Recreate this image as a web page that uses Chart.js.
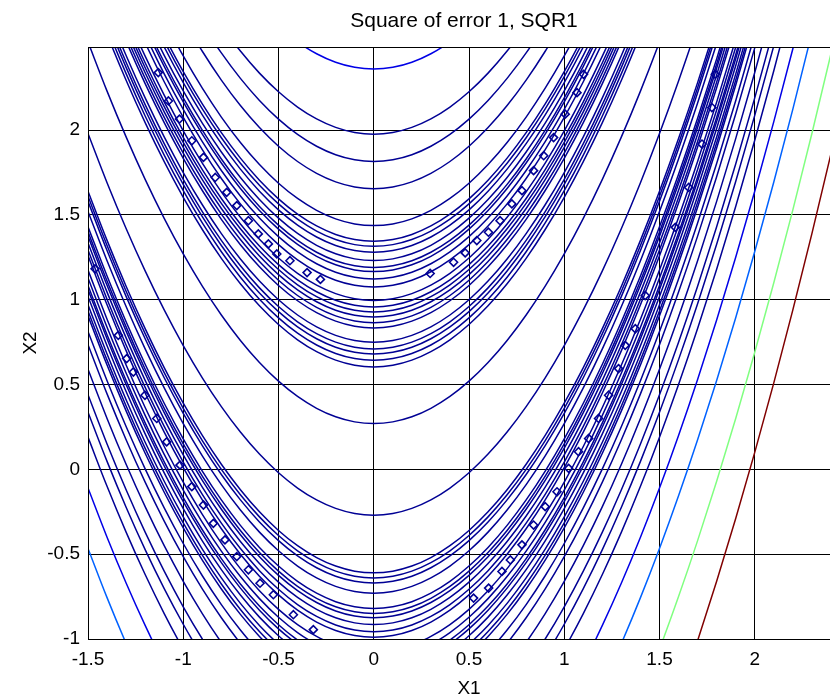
<!DOCTYPE html>
<html>
<head>
<meta charset="utf-8">
<script src="https://cdn.jsdelivr.net/npm/chart.js@4.4.0/dist/chart.umd.min.js"></script>
<style>
  html, body { margin: 0; padding: 0; background: #fff; overflow: hidden; }
  canvas { display: block; }
</style>
</head>
<body>
<canvas id="sqr1" width="880" height="700"></canvas>
<script>
// x1 positions where every contour line is sampled
const x1Grid = [-1.5, -1.4, -1.3, -1.2, -1.1, -1.0, -0.9, -0.8, -0.7, -0.6, -0.5, -0.4, -0.3, -0.2, -0.1,
  0, 0.1, 0.2, 0.3, 0.4, 0.5, 0.6, 0.7, 0.8, 0.9, 1.0, 1.1, 1.2, 1.3, 1.4, 1.5, 1.6, 1.7, 1.8, 1.9,
  2.0, 2.1, 2.2, 2.3, 2.4, 2.5];

// every contour is the parabola x2 = x1^2 + offset; offsets read where each line crosses x1 = 0
// (lines below x2 = -1 read where they cross x2 = 0)
const middleOffsets = [-0.27, 0.27];
const upperBandOffsets = [0.604, 0.643, 0.68, 0.71, 0.75, 0.834, 0.865, 0.898, 0.928, 0.957, 0.996,
  1.075, 1.122, 1.166, 1.19, 1.231, 1.28, 1.315, 1.345, 1.437, 1.655, 1.815, 1.976];
const lowerBandOffsets = [-0.61, -0.64, -0.67, -0.73, -0.82, -0.85, -0.875, -0.915, -0.957, -0.99,
  -1.075, -1.122, -1.166, -1.19, -1.231, -1.28, -1.316, -1.345, -1.437, -1.515, -1.66, -1.81, -1.913, -2.06];
// outer lines that leave the dark blue part of the colour map
const outerOffsets = [2.36, -2.36, -2.716, -3.31, -3.9];
const outerLevels = [0.1, 0.1, 0.22, 0.5, 1.0];

// small closed contours along the two valleys
const upperMarksX1 = [-1.131, -1.078, -1.02, -0.955, -0.894, -0.832, -0.772, -0.719, -0.658, -0.606, -0.553,
  -0.509, -0.44, -0.35, -0.28, 0.296, 0.419, 0.48, 0.541, 0.602, 0.663, 0.725, 0.778, 0.839, 0.892, 0.944,
  1.005, 1.067, 1.101];
const upperMarksX2 = [2.339, 2.172, 2.065, 1.937, 1.839, 1.721, 1.633, 1.555, 1.466, 1.388, 1.329,
  1.27, 1.23, 1.16, 1.12, 1.155, 1.221, 1.276, 1.349, 1.398, 1.466, 1.565, 1.643, 1.761, 1.849, 1.956,
  2.094, 2.221, 2.329];
const lowerMarksX1 = [-1.463, -1.341, -1.297, -1.262, -1.201, -1.139, -1.087, -1.017, -0.955, -0.894, -0.842,
  -0.781, -0.719, -0.658, -0.597, -0.527, -0.422, -0.317, 0.524, 0.603, 0.673, 0.717, 0.778, 0.839, 0.9,
  0.962, 1.023, 1.075, 1.128, 1.18, 1.233, 1.285, 1.32, 1.373, 1.425, 1.583, 1.653, 1.723, 1.775, 1.793];
const lowerMarksX2 = [1.182, 0.79, 0.653, 0.574, 0.437, 0.3, 0.162, 0.025, -0.102, -0.21, -0.318,
  -0.416, -0.514, -0.592, -0.671, -0.739, -0.857, -0.945, -0.759, -0.7, -0.602, -0.534, -0.445, -0.328, -0.22,
  -0.132, 0.006, 0.104, 0.182, 0.3, 0.437, 0.594, 0.731, 0.829, 1.025, 1.427, 1.662, 1.918, 2.133, 2.329];

const FAMILY = '"Liberation Sans", Arial, Helvetica, sans-serif';
const FONT = { family: FAMILY, size: 19 };

// matlab jet colour map
function jet(t) {
  const c = v => Math.round(255 * Math.min(1, Math.max(0, v)));
  const r = c(Math.min(4 * t - 1.5, -4 * t + 4.5));
  const g = c(Math.min(4 * t - 0.5, -4 * t + 3.5));
  const b = c(Math.min(4 * t + 0.5, -4 * t + 2.5));
  return `rgb(${r},${g},${b})`;
}

const navy = jet(0.02);

function contour(offset, color) {
  return {
    data: x1Grid.map(x => ({ x: x, y: x * x + offset })),
    borderColor: color,
    borderWidth: 1.5,
    pointRadius: 0,
    fill: false,
    cubicInterpolationMode: 'monotone'
  };
}

function marks(xs, ys) {
  return {
    data: xs.map((x, i) => ({ x: x, y: ys[i] })),
    showLine: false,
    pointStyle: 'rectRot',
    pointRadius: 4,
    pointBorderWidth: 1.6,
    pointBorderColor: navy,
    pointBackgroundColor: 'rgba(0,0,0,0)'
  };
}

const datasets = [];
[...middleOffsets, ...upperBandOffsets, ...lowerBandOffsets].forEach(c => datasets.push(contour(c, navy)));
outerOffsets.forEach((c, i) => datasets.push(contour(c, jet(outerLevels[i]))));
datasets.push(marks(upperMarksX1, upperMarksX2));
datasets.push(marks(lowerMarksX1, lowerMarksX2));

// box round the axes and the title above them
const framePlugin = {
  id: 'frame',
  afterDraw(chart) {
    const { ctx, chartArea: a } = chart;
    ctx.save();
    ctx.strokeStyle = '#000';
    ctx.lineWidth = 1;
    ctx.strokeRect(Math.round(a.left) + 0.5, Math.round(a.top) + 0.5, a.right - a.left, a.bottom - a.top);
    ctx.fillStyle = '#000';
    ctx.font = `21px ${FAMILY}`;
    ctx.textAlign = 'center';
    ctx.textBaseline = 'middle';
    ctx.fillText('Square of error 1, SQR1', 464, 21);
    ctx.restore();
  }
};

const label = v => String(Math.round(v * 10) / 10);

new Chart(document.getElementById('sqr1'), {
  type: 'line',
  data: { datasets },
  options: {
    responsive: false,
    animation: false,
    devicePixelRatio: 1,
    layout: { padding: { top: 47, right: 30, left: 0, bottom: 0 } },
    plugins: { legend: { display: false }, tooltip: { enabled: false }, title: { display: false } },
    scales: {
      x: {
        type: 'linear', min: -1.5, max: 2.5, z: 1,
        afterFit: s => { s.height = 61; },
        grid: { color: '#000', lineWidth: 1, drawTicks: false },
        border: { display: false },
        ticks: { stepSize: 0.5, color: '#000', font: FONT, padding: 9, maxRotation: 0, autoSkip: false, includeBounds: false, callback: label },
        title: { display: true, text: 'X1', color: '#000', font: FONT, padding: { top: 0, bottom: 0 } }
      },
      y: {
        type: 'linear', min: -1, max: 2.49, z: 1,
        afterFit: s => { s.width = 88; },
        grid: { color: '#000', lineWidth: 1, drawTicks: false },
        border: { display: false },
        ticks: { stepSize: 0.5, color: '#000', font: FONT, padding: 8, autoSkip: false, includeBounds: false, callback: label },
        title: { display: true, text: 'X2', color: '#000', font: FONT, padding: { top: 19, bottom: 0 } }
      }
    }
  },
  plugins: [framePlugin]
});
</script>
</body>
</html>
